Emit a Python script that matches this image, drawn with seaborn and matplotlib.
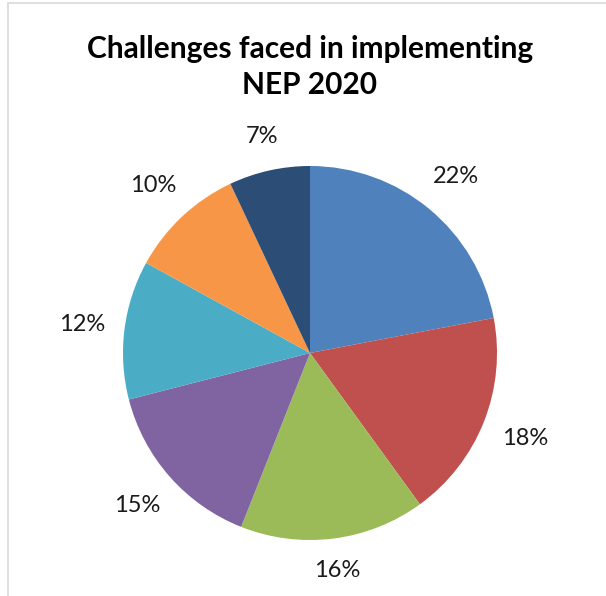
import matplotlib
matplotlib.use("Agg")
import numpy as np
import matplotlib.pyplot as plt
from matplotlib.patches import Rectangle
import seaborn as sns

# Share of each challenge, clockwise from 12 o'clock
shares = [22, 18, 16, 15, 12, 10, 7]
labels = ["22%", "18%", "16%", "15%", "12%", "10%", "7%"]
colors = ["#4F81BD", "#C0504D", "#9BBB59", "#8064A2", "#4BACC6", "#F79646", "#2C4D75"]
title = "Challenges faced in implementing\nNEP 2020"

sns.set_theme(style="white")
plt.rcParams["font.family"] = ["Lato", "DejaVu Sans"]

W, H = 606, 596
fig = plt.figure(figsize=(W / 100, H / 100), dpi=100)

# chart area frame
fig.add_artist(Rectangle((8 / W, -0.05), 1.2, (H - 3) / H + 0.05,
                         transform=fig.transFigure, fill=False,
                         edgecolor="#D9D9D9", linewidth=1.2))

cx, cy, r = 310, 353, 187
ax = fig.add_axes([(cx - r) / W, (H - cy - r) / H, 2 * r / W, 2 * r / H])
palette = sns.color_palette(colors)
wedges, texts = ax.pie(shares, labels=labels, colors=palette, startangle=90,
                       counterclock=False, labeldistance=1.2,
                       wedgeprops=dict(linewidth=0),
                       textprops=dict(fontsize=17, color="#1a1a1a"))

# keep a constant gap between the rim and each label's box
gap = 20.0 / r
half_w, half_h = 22.0 / r, 10.0 / r
for w, t in zip(wedges, texts):
    ang = np.deg2rad((w.theta1 + w.theta2) / 2)
    ux, uy = np.cos(ang), np.sin(ang)
    d = 1 + gap + half_w * abs(ux) + half_h * abs(uy)
    t.set_position((d * ux, d * uy))
    t.set_ha("center")
    t.set_va("center")

ax.set_xlim(-1, 1)
ax.set_ylim(-1, 1)
ax.set_aspect("auto")
ax.axis("off")

fig.text(310 / W, 1 - 67 / H, title, ha="center", va="center",
         fontsize=21.5, fontweight="bold", color="black", linespacing=1.36)

fig.savefig("out.png", dpi=100, facecolor="white")
